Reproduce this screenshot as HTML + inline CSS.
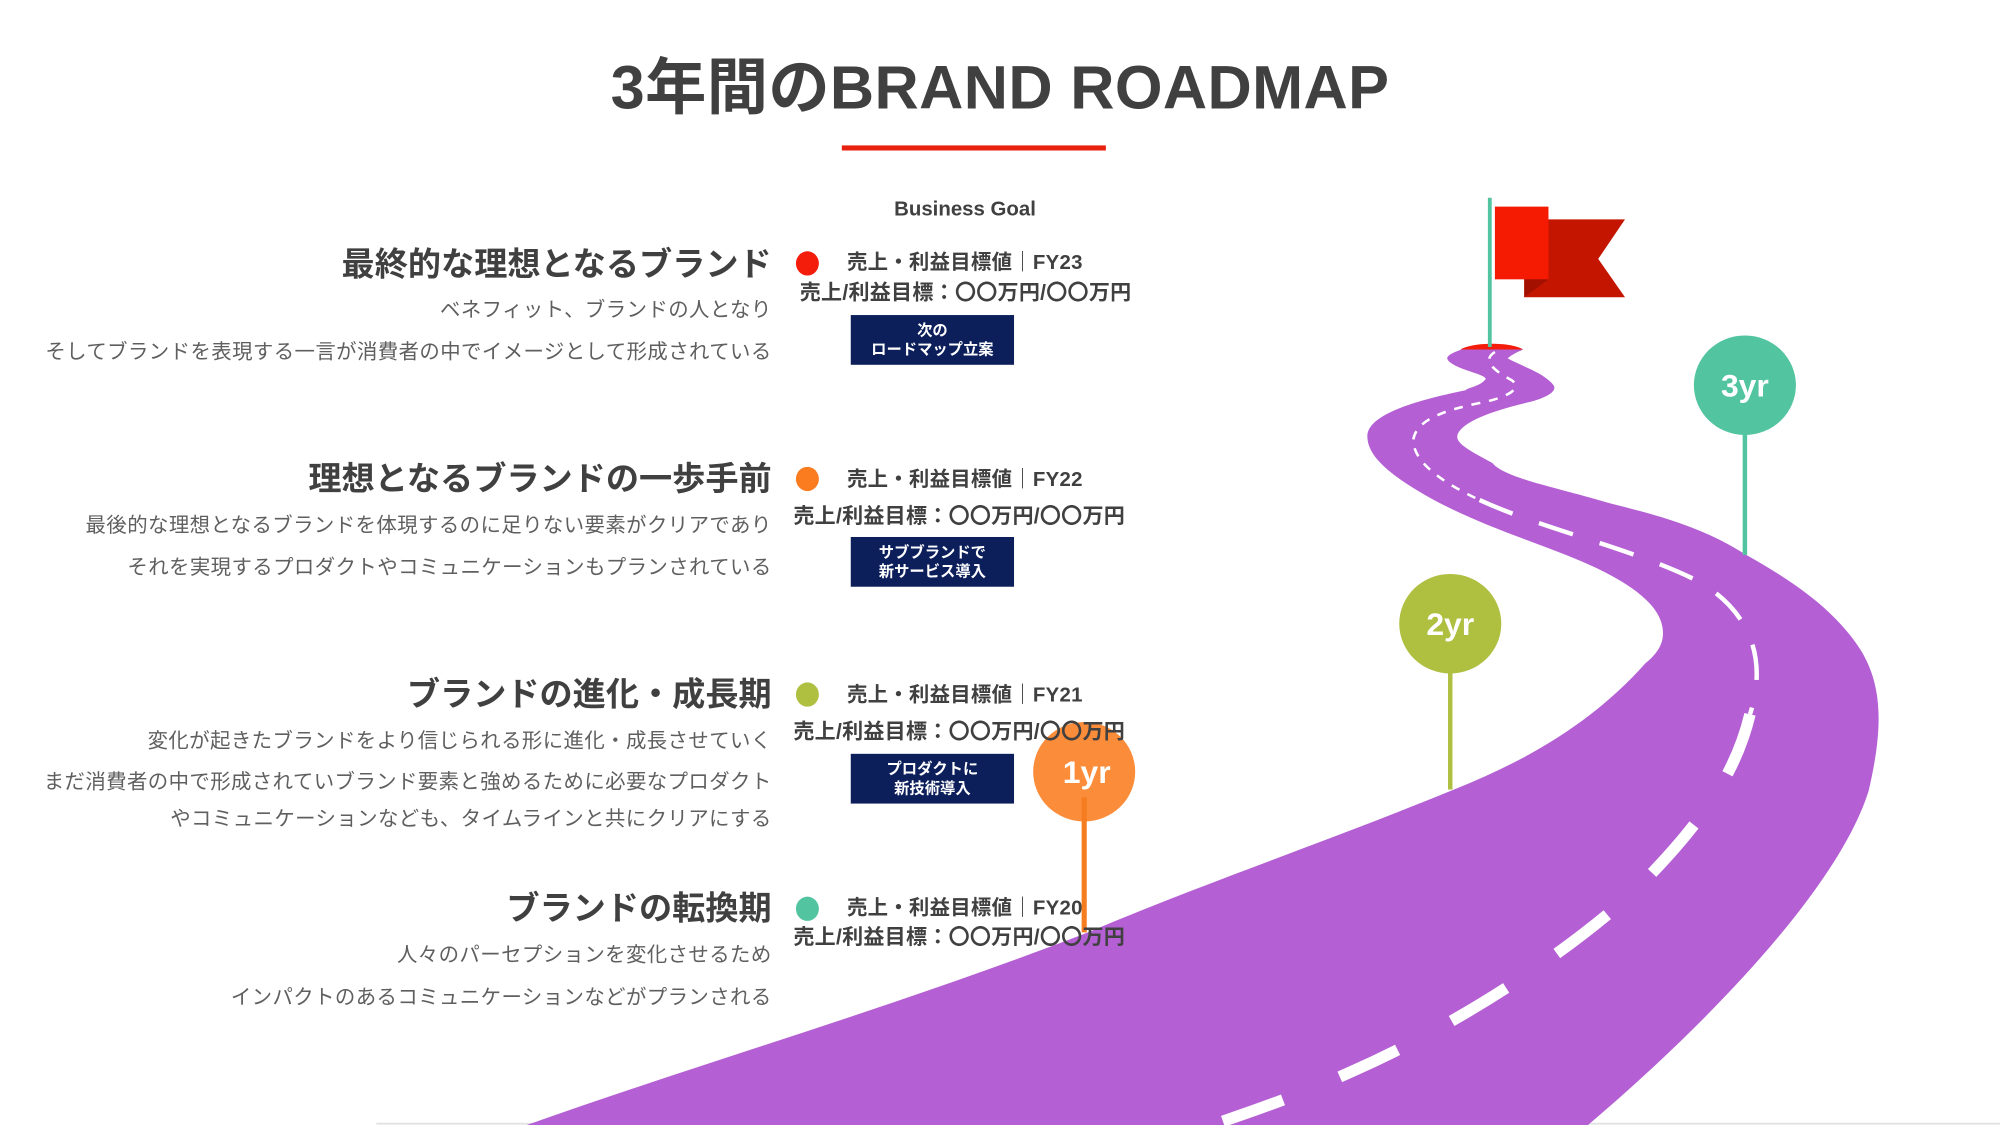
<!DOCTYPE html>
<html><head><meta charset="utf-8">
<style>
html,body{margin:0;padding:0;background:#fff;}
body{width:2000px;height:1125px;overflow:hidden;position:relative;}
#s{position:absolute;left:0;top:0;width:1568px;height:882px;transform:scale(1.27551);transform-origin:0 0;font-family:"Liberation Sans","Noto Sans CJK JP",sans-serif;}
.t{position:absolute;white-space:nowrap;}
.h{right:963px;font-size:26px;font-weight:bold;color:#404040;line-height:26px;}
.p{right:963px;font-size:16px;color:#5f5f5f;line-height:16px;letter-spacing:0.32px;}
.g1{left:664px;font-size:16px;font-weight:bold;color:#404040;line-height:16px;letter-spacing:0.2px;}
.g2{font-size:16.5px;font-weight:bold;color:#404040;line-height:17px;letter-spacing:0.2px;}
.dot{position:absolute;width:18px;height:19px;border-radius:50%;}
.box{position:absolute;left:667px;width:128px;height:39px;background:#0c1f5b;color:#fff;font-size:12px;font-weight:bold;line-height:15px;text-align:center;display:flex;flex-direction:column;justify-content:center;}
</style></head><body><div id="s">
<svg width="1568" height="882" style="position:absolute;left:0;top:0">
<line x1="295" y1="881" x2="1568" y2="881" stroke="#e2e2e2" stroke-width="1.5"/>
<path fill="#b45fd3" d="M1146,274 C1140,276 1133,279 1135,282 C1140,290 1170,294 1164,298 C1160,303 1150,304 1149,306 C1110,314 1072,325 1072,342 C1072,355 1084,366 1098,376 C1140,405 1190,420 1230,436 C1265,450 1298,468 1303,490 C1306,503 1300,512 1290,520 C1250,565 1200,595 1140,619 C1040,660 950,690 853,731 C700,790 560,830 413,882 L1245,882 C1330,810 1440,700 1465,620 C1478,565 1474,535 1459,510 C1440,480 1410,458 1369,435 C1330,410 1290,402 1260,394 C1220,382 1180,375 1170,363 C1150,352 1140,347 1143,340 C1148,330 1170,322 1200,315 C1218,310 1220,305 1218,302 C1210,292 1195,288 1182,281 C1185,278 1190,276 1194,274 Z"/>
<path fill="#f41c0a" d="M1145,274 C1155,268 1185,268 1194,274 Z"/>
<g fill="none" stroke="#fff" stroke-linecap="butt">
<path d="M1172,276 C1162,282 1170,290 1185,298 C1195,305 1180,312 1160,316 C1130,322 1110,330 1108,345 C1108,362 1130,378 1160,392" stroke-width="2" stroke-dasharray="7,7"/>
<path d="M1160,392 C1210,415 1280,430 1330,455 C1375,480 1385,520 1372,560" stroke-width="3.5" stroke-dasharray="28,22"/>
<path d="M1372,560 C1360,610 1330,650 1280,700 C1230,745 1150,800 1060,840 C1020,858 980,872 950,882" stroke-width="9" stroke-dasharray="50,48"/>
</g>
<line x1="1168" y1="155" x2="1168" y2="272" stroke="#52c49f" stroke-width="3"/>
<polygon points="1195,172 1274,172 1253,203 1274,233 1195,233" fill="#c41500"/>
<rect x="1172" y="162" width="42" height="57" fill="#f51a02"/>
<polygon points="1195,219 1214,219 1195,233" fill="#a31000"/>
<line x1="1368" y1="330" x2="1368" y2="435" stroke="#52c49f" stroke-width="3.5"/>
<ellipse cx="1368" cy="302" rx="40" ry="39" fill="#52c49f"/>
<text x="1368" y="311" text-anchor="middle" font-family="Liberation Sans,sans-serif" font-weight="bold" font-size="25" fill="#fff">3yr</text>
<line x1="1137" y1="515" x2="1137" y2="619" stroke="#afbf40" stroke-width="3.5"/>
<ellipse cx="1137" cy="489" rx="40" ry="39" fill="#afbf40"/>
<text x="1137" y="498" text-anchor="middle" font-family="Liberation Sans,sans-serif" font-weight="bold" font-size="25" fill="#fff">2yr</text>
<ellipse cx="850" cy="605" rx="40" ry="39" fill="#fb8c3a"/>
<text x="852" y="614" text-anchor="middle" font-family="Liberation Sans,sans-serif" font-weight="bold" font-size="25" fill="#fff">1yr</text>
<line x1="850" y1="625" x2="850" y2="731" stroke="#f57c1f" stroke-width="4"/>
</svg>

<div class="t" style="left:0;width:1568px;text-align:center;top:45px;font-size:48px;font-weight:bold;color:#404040;line-height:50px;letter-spacing:0.3px;">3年間のBRAND ROADMAP</div>
<div style="position:absolute;left:660px;top:114px;width:207px;height:4px;background:#e8200e"></div>
<div class="t" style="left:701px;top:157px;font-size:16px;font-weight:bold;color:#404040;line-height:16px;">Business Goal</div>

<div class="t h" style="top:194px">最終的な理想となるブランド</div>
<div class="t p" style="top:236px">ベネフィット、ブランドの人となり</div>
<div class="t p" style="top:269px">そしてブランドを表現する一言が消費者の中でイメージとして形成されている</div>

<div class="t h" style="top:362px">理想となるブランドの一歩手前</div>
<div class="t p" style="top:405px">最後的な理想となるブランドを体現するのに足りない要素がクリアであり</div>
<div class="t p" style="top:438px">それを実現するプロダクトやコミュニケーションもプランされている</div>

<div class="t h" style="top:531px">ブランドの進化・成長期</div>
<div class="t p" style="top:574px">変化が起きたブランドをより信じられる形に進化・成長させていく</div>
<div class="t p" style="top:606px">まだ消費者の中で形成されていブランド要素と強めるために必要なプロダクト</div>
<div class="t p" style="top:635px">やコミュニケーションなども、タイムラインと共にクリアにする</div>

<div class="t h" style="top:699px">ブランドの転換期</div>
<div class="t p" style="top:742px">人々のパーセプションを変化させるため</div>
<div class="t p" style="top:775px">インパクトのあるコミュニケーションなどがプランされる</div>

<div class="dot" style="left:624px;top:197px;background:#f41c0a"></div>
<div class="dot" style="left:624px;top:366px;background:#fb7b1f"></div>
<div class="dot" style="left:624px;top:535px;background:#afbf40"></div>
<div class="dot" style="left:624px;top:703px;background:#52c49f"></div>

<div class="t g1" style="top:199px">売上・利益目標値｜FY23</div>
<div class="t g2" style="left:627px;top:222px">売上/利益目標：〇〇万円/〇〇万円</div>
<div class="box" style="top:247px"><div>次の</div><div>ロードマップ立案</div></div>

<div class="t g1" style="top:369px">売上・利益目標値｜FY22</div>
<div class="t g2" style="left:622px;top:397px">売上/利益目標：〇〇万円/〇〇万円</div>
<div class="box" style="top:421px"><div>サブブランドで</div><div>新サービス導入</div></div>

<div class="t g1" style="top:538px">売上・利益目標値｜FY21</div>
<div class="t g2" style="left:622px;top:566px">売上/利益目標：〇〇万円/〇〇万円</div>
<div class="box" style="top:591px"><div>プロダクトに</div><div>新技術導入</div></div>

<div class="t g1" style="top:705px">売上・利益目標値｜FY20</div>
<div class="t g2" style="left:622px;top:727px">売上/利益目標：〇〇万円/〇〇万円</div>
</div></body></html>
